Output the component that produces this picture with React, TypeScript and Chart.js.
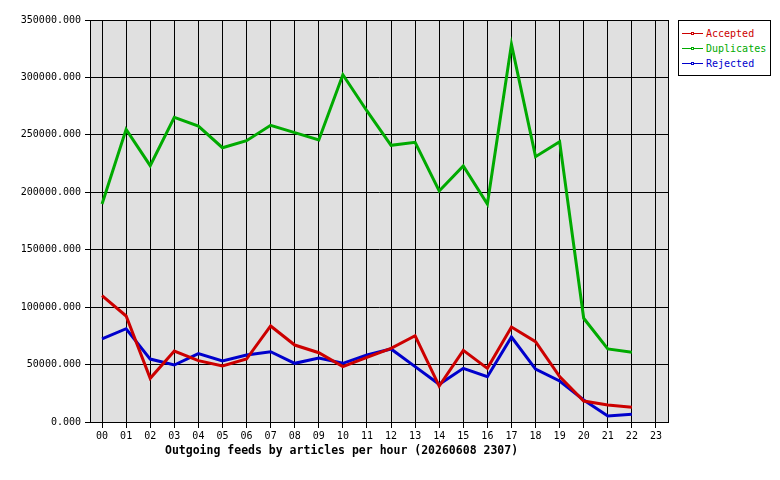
import { useEffect, useRef } from "react"
import { Chart, registerables } from "chart.js"

Chart.register(...registerables)

const hours = [
  "00", "01", "02", "03", "04", "05", "06", "07", "08", "09", "10", "11",
  "12", "13", "14", "15", "16", "17", "18", "19", "20", "21", "22", "23",
]

// 23 hours reported so far, hour 23 still empty
const accepted = [
  110000, 92300, 38000, 61800, 53400, 48800, 54800, 83600, 67000, 60300, 48200, 56300,
  64100, 75100, 31300, 62400, 46700, 82700, 69900, 39500, 18300, 14800, 12800, null,
]
const duplicates = [
  189800, 254800, 223200, 265200, 257700, 238800, 244900, 258300, 251900, 245500, 302400, 270800,
  240900, 243500, 201100, 222900, 189800, 328800, 231000, 244100, 90300, 63600, 60700, null,
]
const rejected = [
  72300, 81200, 54800, 49600, 59500, 53100, 58300, 61200, 51100, 55700, 51100, 58300,
  63600, 48200, 32800, 46700, 39400, 74000, 46100, 35700, 19200, 5200, 6700, null,
]

const RED = "#cc0000"
const GREEN = "#00aa00"
const BLUE = "#0000cc"
const MONO = "'DejaVu Sans Mono', monospace"

const seriesList = [
  { label: "Accepted", data: accepted, color: RED },
  { label: "Duplicates", data: duplicates, color: GREEN },
  { label: "Rejected", data: rejected, color: BLUE },
]

// grey plot background + frame round the plot area
const plotFrame = {
  id: "plotFrame",
  beforeDraw(chart: any) {
    const { ctx, chartArea: a } = chart
    ctx.save()
    ctx.fillStyle = "#e0e0e0"
    ctx.fillRect(a.left, a.top, a.right - a.left, a.bottom - a.top)
    ctx.restore()
  },
  beforeDatasetsDraw(chart: any) {
    const { ctx, chartArea: a } = chart
    ctx.save()
    ctx.strokeStyle = "#000"
    ctx.lineWidth = 1
    ctx.strokeRect(Math.round(a.left) + 0.5, Math.round(a.top) + 0.5, Math.round(a.right - a.left), Math.round(a.bottom - a.top))
    ctx.restore()
  },
}

export default function App() {
  const canvasRef = useRef<HTMLCanvasElement | null>(null)
  const chartRef = useRef<Chart | null>(null)

  useEffect(() => {
    if (!canvasRef.current) return
    const ctx = canvasRef.current.getContext("2d")
    if (!ctx) return
    if (chartRef.current) chartRef.current.destroy()

    chartRef.current = new Chart(ctx, {
      type: "line",
      data: {
        labels: hours,
        datasets: seriesList.map((s) => ({
          label: s.label,
          data: s.data,
          borderColor: s.color,
          backgroundColor: s.color,
          borderWidth: 3,
          pointRadius: 0,
          tension: 0,
          spanGaps: false,
        })),
      },
      options: {
        responsive: false,
        animation: false,
        devicePixelRatio: 1,
        layout: { padding: { left: 8, right: 112, top: 20, bottom: 0 } },
        plugins: {
          legend: { display: false },
          tooltip: { enabled: false },
        },
        scales: {
          x: {
            offset: true,
            grid: { color: "#000", offset: false, tickLength: 6, drawTicks: true },
            border: { display: true, color: "#000" },
            ticks: { color: "#000", font: { family: MONO, size: 10 }, padding: 2, maxRotation: 0, autoSkip: false },
            afterFit: (axis: any) => {
              axis.height = 58
            },
          },
          y: {
            min: 0,
            max: 350000,
            grid: { color: "#000", tickLength: 5, drawTicks: true },
            border: { display: true, color: "#000" },
            ticks: {
              stepSize: 50000,
              color: "#000",
              padding: 4,
              font: { family: MONO, size: 10 },
              callback: (v: any) => Number(v).toFixed(3),
            },
            afterFit: (axis: any) => {
              axis.width = 82
            },
          },
        },
      },
      plugins: [plotFrame],
    })

    return () => {
      if (chartRef.current) {
        chartRef.current.destroy()
        chartRef.current = null
      }
    }
  }, [])

  return (
    <div style={{ position: "absolute", left: 0, top: 0, width: 780, height: 480, background: "#fff" }}>
      <canvas ref={canvasRef} width={780} height={480}></canvas>
      <div
        style={{
          position: "absolute",
          left: 165,
          top: 443,
          fontFamily: MONO,
          fontWeight: "bold",
          fontSize: 11.5,
          lineHeight: "14px",
          whiteSpace: "nowrap",
          color: "#000",
        }}
      >
        Outgoing feeds by articles per hour (20260608 2307)
      </div>
      <div
        style={{
          position: "absolute",
          left: 678,
          top: 20,
          width: 93,
          height: 56,
          border: "1px solid #000",
          background: "#fff",
          paddingTop: 5,
          boxSizing: "border-box",
        }}
      >
        {seriesList.map((s) => (
          <div key={s.label} style={{ position: "relative", height: 15, whiteSpace: "nowrap" }}>
            <span
              style={{
                position: "absolute",
                left: 3,
                top: 7,
                width: 21,
                height: 1,
                background: s.color,
              }}
            ></span>
            <span
              style={{
                position: "absolute",
                left: 12,
                top: 6,
                width: 3,
                height: 3,
                border: `1px solid ${s.color}`,
                background: "#fff",
                boxSizing: "border-box",
              }}
            ></span>
            <span
              style={{
                position: "absolute",
                left: 27,
                top: 0,
                fontFamily: MONO,
                fontSize: 10,
                lineHeight: "15px",
                color: s.color,
              }}
            >
              {s.label}
            </span>
          </div>
        ))}
      </div>
    </div>
  )
}
